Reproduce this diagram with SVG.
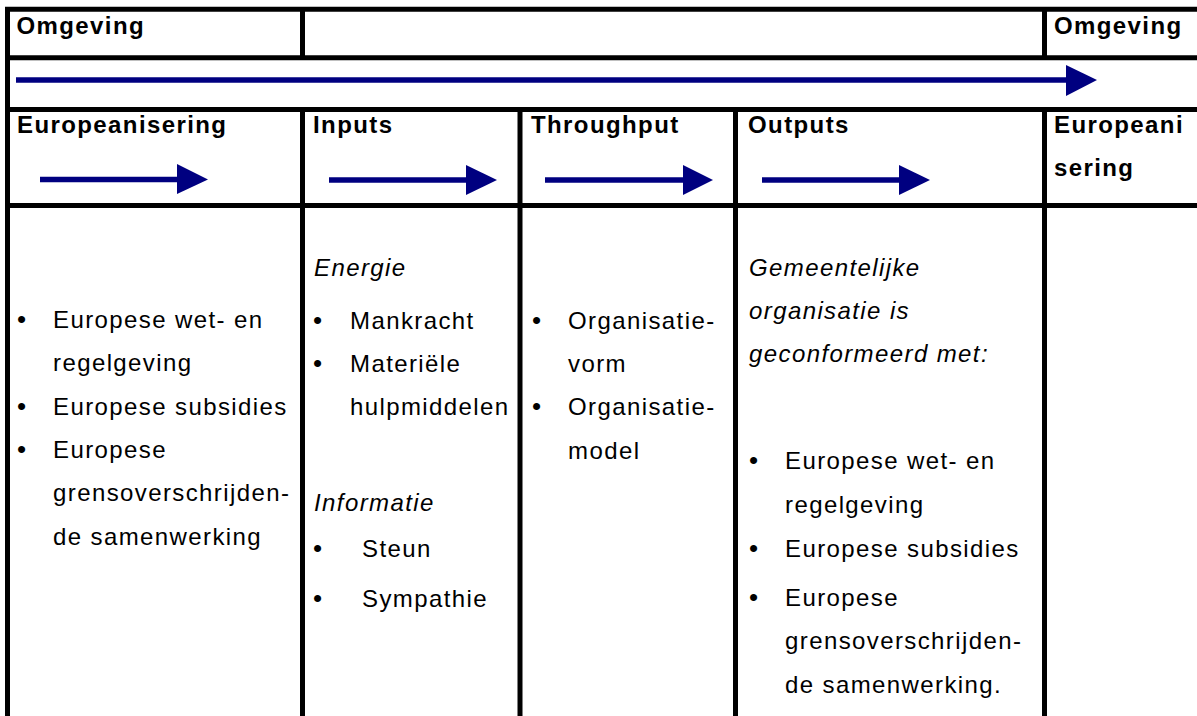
<svg xmlns="http://www.w3.org/2000/svg" width="1197" height="716" viewBox="0 0 1197 716">
<defs>
<style>
.ln{stroke:#000;stroke-width:5;fill:none}
.ar{stroke:#000080;stroke-width:5.5;fill:none}
.hd{fill:#000080}
text{font-family:"Liberation Sans",Arial,sans-serif;font-size:24px;letter-spacing:1.4px;fill:#000}
.b{font-weight:bold}
.i{font-style:italic}
.bl{font-size:26px;letter-spacing:0}
</style>
</defs>
<rect width="1197" height="716" fill="#fff"/>
<g id="grid">
<line class="ln" x1="5" y1="9.3" x2="1197" y2="9.3"/>
<line class="ln" x1="5" y1="57.8" x2="1197" y2="57.8"/>
<line class="ln" x1="5" y1="109.5" x2="1197" y2="109.5"/>
<line class="ln" x1="5" y1="205.5" x2="1197" y2="205.5"/>
<line class="ln" x1="7.5" y1="7" x2="7.5" y2="716"/>
<line class="ln" x1="302.5" y1="7" x2="302.5" y2="57.8"/>
<line class="ln" x1="1044.5" y1="7" x2="1044.5" y2="57.8"/>
<line class="ln" x1="302.5" y1="109.5" x2="302.5" y2="716"/>
<line class="ln" x1="520" y1="109.5" x2="520" y2="716"/>
<line class="ln" x1="735.5" y1="109.5" x2="735.5" y2="716"/>
<line class="ln" x1="1044.5" y1="109.5" x2="1044.5" y2="716"/>
</g>
<g id="omgeving-left"><text class="b" x="16.5" y="34">Omgeving</text></g>
<g id="omgeving-right"><text class="b" x="1054" y="34">Omgeving</text></g>
<g id="connectors">
<line class="ar" x1="16" y1="80" x2="1068" y2="80"/>
<polygon class="hd" points="1066,65 1097,80 1066,96"/>
<line class="ar" x1="40" y1="179.5" x2="179" y2="179.5"/>
<polygon class="hd" points="177,164 208,179.5 177,194"/>
<line class="ar" x1="329" y1="180" x2="468" y2="180"/>
<polygon class="hd" points="466,165 497,180 466,195"/>
<line class="ar" x1="545" y1="180" x2="685" y2="180"/>
<polygon class="hd" points="683,165 713,180 683,195"/>
<line class="ar" x1="762" y1="180" x2="901" y2="180"/>
<polygon class="hd" points="899,165 930,180 899,195"/>
</g>
<g id="europeanisering">
<text class="b" x="17" y="133">Europeanisering</text>
<text class="bl" x="17" y="328">•</text><text x="53" y="328">Europese wet- en</text>
<text x="53" y="371">regelgeving</text>
<text class="bl" x="17" y="414.5">•</text><text x="53" y="414.5">Europese subsidies</text>
<text class="bl" x="17" y="458">•</text><text x="53" y="458">Europese</text>
<text x="53" y="501">grensoverschrijden-</text>
<text x="53" y="544.5">de samenwerking</text>
</g>
<g id="inputs">
<text class="b" x="313" y="133">Inputs</text>
<text class="i" x="314" y="276">Energie</text>
<text class="bl" x="313" y="329">•</text><text x="350" y="329">Mankracht</text>
<text class="bl" x="313" y="372">•</text><text x="350" y="372">Materiële</text>
<text x="350" y="415">hulpmiddelen</text>
<text class="i" x="314" y="511">Informatie</text>
<text class="bl" x="313" y="557">•</text><text x="362" y="557">Steun</text>
<text class="bl" x="313" y="607">•</text><text x="362" y="607">Sympathie</text>
</g>
<g id="throughput">
<text class="b" x="531" y="133">Throughput</text>
<text class="bl" x="532" y="329">•</text><text x="568" y="329">Organisatie-</text>
<text x="568" y="372">vorm</text>
<text class="bl" x="532" y="415">•</text><text x="568" y="415">Organisatie-</text>
<text x="568" y="459">model</text>
</g>
<g id="outputs">
<text class="b" x="748" y="133">Outputs</text>
<text class="i" x="749" y="276">Gemeentelijke</text>
<text class="i" x="749" y="319">organisatie is</text>
<text class="i" x="749" y="362">geconformeerd met:</text>
<text class="bl" x="749" y="469">•</text><text x="785" y="469">Europese wet- en</text>
<text x="785" y="513">regelgeving</text>
<text class="bl" x="749" y="557">•</text><text x="785" y="557">Europese subsidies</text>
<text class="bl" x="749" y="606">•</text><text x="785" y="606">Europese</text>
<text x="785" y="649">grensoverschrijden-</text>
<text x="785" y="693">de samenwerking.</text>
</g>
<g id="europeanisering-right">
<text class="b" x="1054" y="133">Europeani</text>
<text class="b" x="1054" y="176">sering</text>
</g>
</svg>
